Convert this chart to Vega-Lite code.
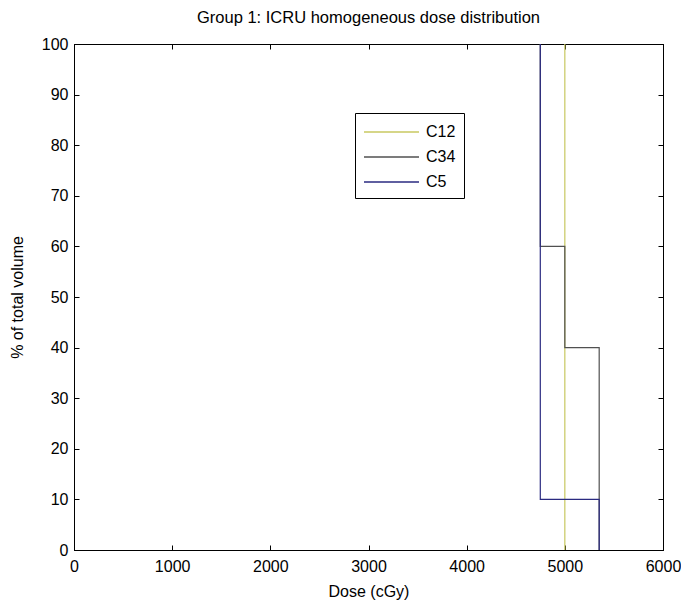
{
  "$schema": "https://vega.github.io/schema/vega-lite/v6.json",
  "width": 589,
  "height": 506,
  "autosize": {"type": "none"},
  "padding": {"left": 74, "top": 44, "right": 18, "bottom": 52},
  "background": "white",
  "title": {"text": "Group 1: ICRU homogeneous dose distribution", "font": "Liberation Sans", "fontSize": 16.5, "fontWeight": "normal", "color": "#000000", "offset": 10},
  "config": {
    "view": {"stroke": "#000000", "strokeWidth": 1},
    "axis": {"grid": false, "domainColor": "#000000", "tickColor": "#000000", "labelColor": "#000000", "titleColor": "#000000", "labelFont": "Liberation Sans", "titleFont": "Liberation Sans", "labelFontSize": 16, "titleFontSize": 16, "titleFontWeight": "normal", "tickSize": -5, "labelFlush": false, "labelOverlap": false, "format": "d"}
  },
  "data": {"values": [
    {"s": "C12", "i": 0, "dose": 5000, "vol": 100},
    {"s": "C12", "i": 1, "dose": 5000, "vol": 0},
    {"s": "C34", "i": 0, "dose": 4750, "vol": 100},
    {"s": "C34", "i": 1, "dose": 4750, "vol": 60},
    {"s": "C34", "i": 2, "dose": 5000, "vol": 60},
    {"s": "C34", "i": 3, "dose": 5000, "vol": 40},
    {"s": "C34", "i": 4, "dose": 5350, "vol": 40},
    {"s": "C34", "i": 5, "dose": 5350, "vol": 0},
    {"s": "C5", "i": 0, "dose": 4750, "vol": 100},
    {"s": "C5", "i": 1, "dose": 4750, "vol": 10},
    {"s": "C5", "i": 2, "dose": 5350, "vol": 10},
    {"s": "C5", "i": 3, "dose": 5350, "vol": 0}
  ]},
  "layer": [
    {
      "mark": {"type": "line", "strokeWidth": 1.2, "interpolate": "linear"},
      "encoding": {
        "x": {"field": "dose", "type": "quantitative", "scale": {"domain": [0, 6000], "nice": false, "zero": false}, "axis": {"title": "Dose (cGy)", "values": [0,1000,2000,3000,4000,5000,6000], "labelPadding": 13, "titlePadding": 9}},
        "y": {"field": "vol", "type": "quantitative", "scale": {"domain": [0, 100], "nice": false}, "axis": {"title": "% of total volume", "values": [0,10,20,30,40,50,60,70,80,90,100], "labelPadding": 11, "titlePadding": 16}},
        "color": {"field": "s", "type": "nominal", "scale": {"domain": ["C12", "C34", "C5"], "range": ["#c8c860", "#505050", "#2a2a80"]},
          "legend": {"title": null, "orient": "none", "legendX": 281, "legendY": 69, "symbolType": "M-1,0H4.5", "symbolSize": 400, "symbolStrokeWidth": 1.5, "symbolFillColor": "transparent", "strokeColor": "#000000", "fillColor": "#ffffff", "padding": 8, "labelFont": "Liberation Sans", "labelFontSize": 16, "labelColor": "#000000", "rowPadding": 6, "labelOffset": 41}},
        "order": {"field": "i", "type": "quantitative"}
      }
    },
    {
      "mark": {"type": "line", "opacity": 0},
      "encoding": {
        "x": {"field": "dose", "type": "quantitative", "axis": {"orient": "top", "labels": false, "title": null, "values": [0,1000,2000,3000,4000,5000,6000]}},
        "y": {"field": "vol", "type": "quantitative", "axis": {"orient": "right", "labels": false, "title": null, "values": [0,10,20,30,40,50,60,70,80,90,100]}},
        "detail": {"field": "s"},
        "order": {"field": "i", "type": "quantitative"}
      }
    }
  ],
  "resolve": {"axis": {"x": "independent", "y": "independent"}}
}
